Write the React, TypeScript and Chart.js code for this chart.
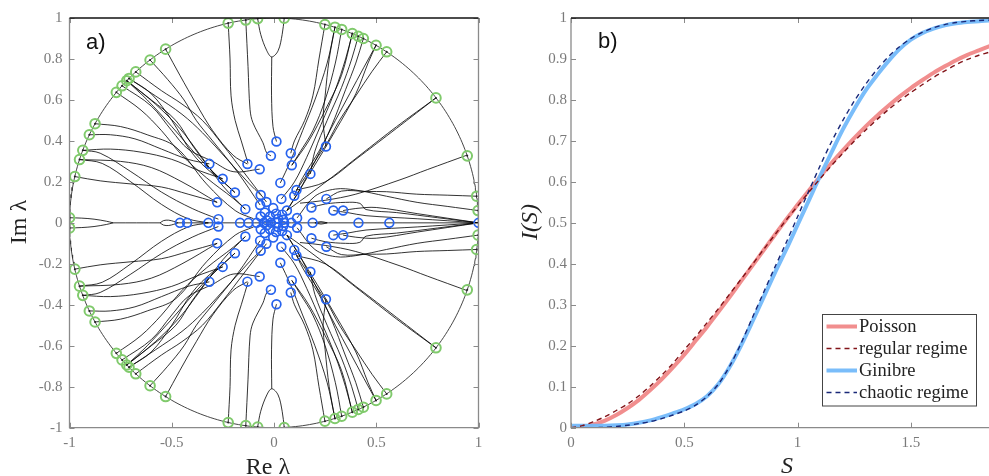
import React, { useEffect, useRef } from "react";
import { Chart, registerables } from "chart.js";
Chart.register(...registerables);

type P = [number, number];

// ---------- Panel a) data ----------
const greenUpper: P[] = [
  [-0.224, 0.975], [-0.138, 0.99], [-0.08, 0.997], [0.05, 0.999], [0.249, 0.968], [0.298, 0.955],
  [0.331, 0.944], [0.383, 0.924], [0.412, 0.911], [0.437, 0.9], [0.499, 0.867], [0.551, 0.835],
  [0.792, 0.61], [0.945, 0.327], [0.991, 0.13], [0.998, 0.06],
  [-0.53, 0.848], [-0.606, 0.795], [-0.676, 0.737], [-0.709, 0.705], [-0.72, 0.694], [-0.743, 0.669],
  [-0.771, 0.637], [-0.875, 0.484], [-0.903, 0.43], [-0.935, 0.354], [-0.951, 0.309], [-0.974, 0.226],
  [-0.9997, 0.025],
];

const blueUpper: P[] = [
  [-0.316, 0.288], [-0.251, 0.215], [-0.191, 0.148], [-0.278, 0.1], [-0.14, 0.067], [-0.13, 0.287],
  [-0.07, 0.262], [0.012, 0.397], [-0.015, 0.327], [0.082, 0.34], [0.087, 0.281], [0.031, 0.195],
  [0.11, 0.16], [0.099, 0.132], [-0.065, 0.136], [-0.037, 0.102], [0.036, 0.117], [-0.068, 0.087],
  [-0.004, 0.072], [0.063, 0.06], [0.254, 0.373], [0.178, 0.239], [0.256, 0.117], [0.183, 0.075],
  [0.29, 0.06], [0.338, 0.06], [0.113, 0.024], [-0.065, 0.031], [-0.02, 0.031], [-0.272, 0.018],
  [0.02, 0.02], [0.045, 0.015], [-0.035, 0.012], [0.01, 0.045], [0.04, 0.04], [-0.045, 0.05],
];

const blueReal: P[] = [
  [-0.46, 0], [-0.425, 0], [-0.321, 0], [-0.166, 0], [-0.125, 0], [-0.085, 0], [-0.05, 0],
  [-0.015, 0], [0.015, 0], [0.05, 0], [0.085, 0], [0.189, 0], [0.413, 0], [0.564, 0], [1, 0],
];

const trajUpper: P[][] = [
  [[-0.786, 0], [-0.82, 0.008], [-0.88, 0.018], [-0.94, 0.023], [-0.9997, 0.025]],
  [[-0.557, 0], [-0.54, 0.011], [-0.515, 0.013], [-0.49, 0.007], [-0.468, 0]],
  [[-0.278, 0.1], [-0.42, 0.14], [-0.55, 0.175], [-0.7, 0.19], [-0.85, 0.205], [-0.974, 0.226]],
  [[-0.321, 0], [-0.42, 0.02], [-0.55, 0.09], [-0.7, 0.2], [-0.84, 0.29], [-0.951, 0.309]],
  [[-0.251, 0.215], [-0.38, 0.26], [-0.5, 0.31], [-0.65, 0.345], [-0.8, 0.36], [-0.935, 0.354]],
  [[-0.316, 0.288], [-0.42, 0.31], [-0.55, 0.36], [-0.68, 0.41], [-0.8, 0.43], [-0.903, 0.43]],
  [[-0.1, 0.02], [-0.19, 0.06], [-0.33, 0.19], [-0.48, 0.37], [-0.62, 0.43], [-0.75, 0.47], [-0.875, 0.484]],
  [[-0.14, 0.067], [-0.2, 0.12], [-0.33, 0.22], [-0.45, 0.33], [-0.55, 0.45], [-0.65, 0.55], [-0.771, 0.637]],
  [[-0.07, 0.262], [-0.2, 0.25], [-0.3, 0.3], [-0.42, 0.36], [-0.5, 0.45], [-0.6, 0.57], [-0.743, 0.669]],
  [[-0.191, 0.148], [-0.3, 0.25], [-0.4, 0.38], [-0.48, 0.5], [-0.6, 0.6], [-0.72, 0.694]],
  [[-0.065, 0.136], [-0.12, 0.19], [-0.22, 0.3], [-0.35, 0.44], [-0.45, 0.53], [-0.58, 0.62], [-0.709, 0.705]],
  [[-0.037, 0.102], [-0.15, 0.25], [-0.25, 0.38], [-0.35, 0.5], [-0.45, 0.58], [-0.55, 0.645], [-0.676, 0.737]],
  [[-0.068, 0.087], [-0.18, 0.25], [-0.3, 0.4], [-0.38, 0.5], [-0.44, 0.6], [-0.52, 0.7], [-0.606, 0.795]],
  [[-0.13, 0.287], [-0.2, 0.33], [-0.3, 0.45], [-0.38, 0.58], [-0.46, 0.72], [-0.53, 0.848]],
  [[-0.127, 0.29], [-0.16, 0.4], [-0.19, 0.5], [-0.21, 0.62], [-0.215, 0.8], [-0.224, 0.975]],
  [[-0.015, 0.327], [-0.036, 0.342], [-0.054, 0.391], [-0.103, 0.489], [-0.117, 0.552], [-0.127, 0.763], [-0.138, 0.99]],
  [[-0.08, 0.997], [-0.065, 0.92], [-0.035, 0.84], [-0.011, 0.81], [0.02, 0.84], [0.04, 0.92], [0.05, 0.999]],
  [[0.012, 0.397], [-0.005, 0.47], [-0.012, 0.62], [-0.011, 0.81]],
  [[-0.14, 0.067], [-0.25, 0.18], [-0.36, 0.33], [-0.46, 0.46], [-0.58, 0.58], [-0.72, 0.694]],
  [[-0.251, 0.215], [-0.3, 0.24], [-0.4, 0.34], [-0.5, 0.5], [-0.6, 0.63], [-0.709, 0.705]],
  [[-0.191, 0.148], [-0.35, 0.3], [-0.5, 0.47], [-0.62, 0.6], [-0.72, 0.694]],
  [[-0.272, 0.018], [-0.4, 0.07], [-0.55, 0.15], [-0.7, 0.25], [-0.85, 0.34], [-0.935, 0.354]],
  [[-0.278, 0.1], [-0.45, 0.2], [-0.6, 0.27], [-0.75, 0.3], [-0.951, 0.309]],
  [[0.082, 0.34], [0.1, 0.4], [0.15, 0.5], [0.19, 0.62], [0.22, 0.8], [0.249, 0.968]],
  [[0.254, 0.373], [0.24, 0.5], [0.25, 0.62], [0.27, 0.8], [0.298, 0.955]],
  [[0.031, 0.195], [0.08, 0.3], [0.14, 0.45], [0.2, 0.6], [0.26, 0.78], [0.298, 0.955]],
  [[0.087, 0.281], [0.13, 0.35], [0.19, 0.45], [0.25, 0.6], [0.3, 0.78], [0.331, 0.944]],
  [[0.087, 0.281], [0.17, 0.4], [0.25, 0.55], [0.33, 0.72], [0.383, 0.924]],
  [[0.036, 0.117], [0.1, 0.2], [0.16, 0.32], [0.23, 0.48], [0.3, 0.65], [0.35, 0.8], [0.383, 0.924]],
  [[0.178, 0.239], [0.2, 0.35], [0.26, 0.5], [0.33, 0.66], [0.38, 0.8], [0.412, 0.911]],
  [[0.11, 0.16], [0.2, 0.3], [0.28, 0.47], [0.35, 0.65], [0.4, 0.78], [0.437, 0.9]],
  [[0.099, 0.132], [0.14, 0.22], [0.22, 0.35], [0.3, 0.5], [0.37, 0.63], [0.44, 0.76], [0.499, 0.867]],
  [[0.063, 0.06], [0.18, 0.25], [0.3, 0.45], [0.4, 0.63], [0.46, 0.78], [0.499, 0.867]],
  [[0.063, 0.06], [0.12, 0.15], [0.2, 0.3], [0.26, 0.39], [0.32, 0.5], [0.4, 0.62], [0.48, 0.74], [0.551, 0.835]],
  [[0.063, 0.06], [0.16, 0.13], [0.28, 0.22], [0.42, 0.33], [0.6, 0.47], [0.792, 0.61]],
  [[0.11, 0.16], [0.25, 0.2], [0.4, 0.31], [0.6, 0.462], [0.792, 0.61]],
  [[0.127, 0.096], [0.25, 0.11], [0.4, 0.14], [0.616, 0.21], [0.75, 0.26], [0.945, 0.331]],
  [[0.256, 0.117], [0.33, 0.155], [0.453, 0.153], [0.55, 0.152], [0.698, 0.14], [0.85, 0.135], [0.991, 0.13]],
  [[0.113, 0.024], [0.2, 0.13], [0.3, 0.165], [0.4, 0.16], [0.55, 0.13], [0.7, 0.1], [0.85, 0.08], [0.998, 0.06]],
  [[0.183, 0.075], [0.25, 0.092], [0.35, 0.1], [0.42, 0.095], [0.45, 0.065], [0.6, 0.05], [0.8, 0.025], [1, 0]],
  [[0.29, 0.06], [0.36, 0.05], [0.45, 0.035], [0.7, 0.02], [1, 0]],
  [[0.338, 0.06], [0.4, 0.07], [0.5, 0.075], [0.7, 0.045], [1, 0]],
  [[0.2, 0], [0.23, 0.006], [0.26, 0]],
];

const trajReal: P[][] = [
  [[-0.786, 0], [-0.557, 0]],
  [[-0.468, 0], [1, 0]],
];

const xTicksLeft = [-1, -0.5, 0, 0.5, 1];
const yTicksLeft = [-1, -0.8, -0.6, -0.4, -0.2, 0, 0.2, 0.4, 0.6, 0.8, 1];

// ---------- Panel b) data ----------
const sValues = [0, 0.05, 0.1, 0.15, 0.2, 0.25, 0.3, 0.35, 0.4, 0.45, 0.5, 0.55, 0.6, 0.65, 0.7, 0.75, 0.8,
  0.85, 0.9, 0.95, 1.0, 1.05, 1.1, 1.15, 1.2, 1.25, 1.3, 1.35, 1.4, 1.45, 1.5, 1.55, 1.6, 1.65, 1.7, 1.75, 1.8, 1.85];
const poisson = [0, 0.002, 0.008, 0.0175, 0.031, 0.048, 0.068, 0.092, 0.118, 0.147, 0.178, 0.212, 0.246, 0.282,
  0.319, 0.357, 0.395, 0.433, 0.471, 0.508, 0.544, 0.579, 0.613, 0.646, 0.677, 0.707, 0.735, 0.761, 0.785, 0.808,
  0.829, 0.848, 0.866, 0.882, 0.897, 0.91, 0.921, 0.932];
const regular = [0, 0.005, 0.015, 0.027, 0.042, 0.058, 0.078, 0.102, 0.128, 0.157, 0.19, 0.222, 0.256, 0.29,
  0.326, 0.362, 0.398, 0.435, 0.471, 0.507, 0.541, 0.575, 0.608, 0.64, 0.67, 0.699, 0.726, 0.752, 0.776, 0.798,
  0.818, 0.837, 0.855, 0.871, 0.886, 0.899, 0.909, 0.917];
const ginibre = [0.005, 0.005, 0.005, 0.005, 0.006, 0.008, 0.012, 0.018, 0.026, 0.035, 0.045, 0.058, 0.077, 0.106,
  0.148, 0.2, 0.258, 0.318, 0.378, 0.435, 0.495, 0.555, 0.615, 0.672, 0.728, 0.778, 0.823, 0.86, 0.894, 0.924,
  0.947, 0.963, 0.974, 0.982, 0.987, 0.99, 0.992, 0.994];
const chaotic = [0, 0, 0, 0.001, 0.003, 0.006, 0.01, 0.015, 0.022, 0.031, 0.041, 0.055, 0.076, 0.106, 0.15, 0.205,
  0.268, 0.33, 0.392, 0.452, 0.515, 0.578, 0.64, 0.698, 0.75, 0.797, 0.838, 0.874, 0.905, 0.93, 0.95, 0.965,
  0.976, 0.984, 0.989, 0.992, 0.994, 0.995];
const xTicksRight = [0, 0.5, 1, 1.5];
const yTicksRight = [0, 0.1, 0.2, 0.3, 0.4, 0.5, 0.6, 0.7, 0.8, 0.9, 1];
const legendLabels = ["Poisson", "regular regime", "Ginibre", "chaotic regime"];

// ---------- styles ----------
const SERIF = '"Liberation Serif", "DejaVu Serif", serif';
const SANS = '"Liberation Sans", Arial, sans-serif';
const TICK_COLOR = "#7a7a7a";
const AXIS_COLOR = "#8a8a8a";
const GREEN = "rgb(128,202,108)";
const BLUE = "rgb(38,98,238)";
const POISSON_C = "rgba(240,130,130,0.9)";
const REGULAR_C = "rgb(130,20,25)";
const GINIBRE_C = "rgba(115,185,250,0.95)";
const CHAOTIC_C = "rgb(25,40,120)";

const H = 476;
const LW = 495;
const RW = 494;

const fmt = (v: any) => String(Math.round(Number(v) * 100) / 100);
const toXY = (pts: P[]) => pts.map(([x, y]) => ({ x, y }));
const conj = (pts: P[]): P[] => pts.map(([x, y]) => [x, -y] as P);

function framePlugin(xt: number[], yt: number[], rightSide: boolean) {
  return {
    id: "frame",
    afterDatasetsDraw(chart: any) {
      const { ctx, chartArea: a, scales } = chart;
      ctx.save();
      ctx.lineWidth = 1;
      ctx.strokeStyle = AXIS_COLOR;
      const tl = 5;
      for (const v of yt) {
        const py = Math.round(scales.y.getPixelForValue(v)) + 0.5;
        ctx.beginPath();
        ctx.moveTo(a.left, py);
        ctx.lineTo(a.left + tl, py);
        if (rightSide) {
          ctx.moveTo(a.right, py);
          ctx.lineTo(a.right - tl, py);
        }
        ctx.stroke();
      }
      for (const v of xt) {
        const px = Math.round(scales.x.getPixelForValue(v)) + 0.5;
        ctx.beginPath();
        ctx.moveTo(px, a.bottom);
        ctx.lineTo(px, a.bottom - tl);
        ctx.moveTo(px, a.top);
        ctx.lineTo(px, a.top + tl);
        ctx.stroke();
      }
      ctx.lineWidth = 1.3;
      ctx.strokeStyle = AXIS_COLOR;
      ctx.beginPath();
      ctx.moveTo(a.left, a.top);
      ctx.lineTo(a.left, a.bottom);
      ctx.lineTo(a.right, a.bottom);
      if (rightSide) ctx.lineTo(a.right, a.top);
      ctx.stroke();
      ctx.strokeStyle = "#111";
      ctx.beginPath();
      ctx.moveTo(a.left, a.top);
      ctx.lineTo(a.right, a.top);
      ctx.stroke();
      ctx.restore();
    },
  };
}

function textPlugin(draw: (ctx: CanvasRenderingContext2D, chart: any) => void) {
  return {
    id: "texts",
    afterDraw(chart: any) {
      const ctx = chart.ctx as CanvasRenderingContext2D;
      ctx.save();
      draw(ctx, chart);
      ctx.restore();
    },
  };
}

function scaleOpts(min: number, max: number, ticks: number[], size: number, isY: boolean, pad: number) {
  return {
    type: "linear",
    min,
    max,
    grid: { display: false, drawTicks: false },
    border: { display: false },
    afterBuildTicks: (s: any) => {
      s.ticks = ticks.map((v) => ({ value: v }));
    },
    afterFit: (s: any) => {
      if (isY) s.width = size;
      else s.height = size;
    },
    ticks: {
      padding: pad,
      color: TICK_COLOR,
      font: { family: SERIF, size: 15 },
      callback: fmt,
      autoSkip: false,
      maxRotation: 0,
    },
  };
}

export default function App() {
  const leftRef = useRef<HTMLCanvasElement>(null);
  const rightRef = useRef<HTMLCanvasElement>(null);

  useEffect(() => {
    const lineDs = (pts: P[]) => ({
      data: toXY(pts),
      borderColor: "rgba(0,0,0,0.8)",
      borderWidth: 1,
      pointRadius: 0,
      tension: 0.35,
      fill: false,
      order: 10,
    });
    const circlePts: P[] = [];
    for (let i = 0; i <= 360; i++) {
      const t = (i / 360) * 2 * Math.PI;
      circlePts.push([Math.cos(t), Math.sin(t)]);
    }
    const allGreen = [...greenUpper, ...conj(greenUpper)];
    const allBlue = [...blueUpper, ...conj(blueUpper), ...blueReal];
    const leftDatasets: any[] = [
      { data: toXY(circlePts), borderColor: "rgba(50,50,50,0.9)", borderWidth: 1, pointRadius: 0, tension: 0, order: 9 },
      ...trajUpper.map(lineDs),
      ...trajUpper.map((t) => lineDs(conj(t))),
      ...trajReal.map(lineDs),
      {
        data: toXY(allGreen), showLine: false, pointRadius: 4.8, pointBorderWidth: 2,
        pointBorderColor: GREEN, pointBackgroundColor: "rgba(0,0,0,0)", order: 2,
      },
      {
        data: toXY(allGreen), showLine: false, pointRadius: 1, pointBorderWidth: 0,
        pointBackgroundColor: "#222", order: 1,
      },
      {
        data: toXY(allBlue), showLine: false, pointRadius: 4.4, pointBorderWidth: 1.7,
        pointBorderColor: BLUE, pointBackgroundColor: "rgba(0,0,0,0)", order: 0,
      },
    ];

    const left = new Chart(leftRef.current!, {
      type: "line",
      data: { datasets: leftDatasets },
      options: {
        responsive: false,
        animation: false,
        devicePixelRatio: 1,
        events: [],
        layout: { padding: { top: 18, right: 16.5, left: 0, bottom: 0 } },
        plugins: { legend: { display: false }, tooltip: { enabled: false } },
        scales: {
          x: scaleOpts(-1, 1, xTicksLeft, 48.3, false, 6) as any,
          y: scaleOpts(-1, 1, yTicksLeft, 69.5, true, 7) as any,
        },
      } as any,
      plugins: [
        framePlugin(xTicksLeft, yTicksLeft, true),
        textPlugin((ctx) => {
          ctx.fillStyle = "#111";
          ctx.font = `22px ${SANS}`;
          ctx.textBaseline = "alphabetic";
          ctx.textAlign = "left";
          ctx.fillText("a)", 86, 49);
          ctx.fillStyle = "#222";
          ctx.font = `24px ${SERIF}`;
          ctx.textAlign = "center";
          ctx.fillText("Re λ", 268, 474);
          ctx.save();
          ctx.translate(26, 222);
          ctx.rotate(-Math.PI / 2);
          ctx.textAlign = "center";
          ctx.fillText("Im λ", 0, 0);
          ctx.restore();
        }),
      ],
    });

    const mk = (vals: number[]) => sValues.map((s, i) => ({ x: s, y: vals[i] }));
    const right = new Chart(rightRef.current!, {
      type: "line",
      data: {
        datasets: [
          { data: mk(regular), borderColor: REGULAR_C, borderWidth: 1.4, borderDash: [5, 4], pointRadius: 0, tension: 0.3, order: 0 },
          { data: mk(chaotic), borderColor: CHAOTIC_C, borderWidth: 1.4, borderDash: [5, 4], pointRadius: 0, tension: 0.3, order: 0 },
          { data: mk(ginibre), borderColor: GINIBRE_C, borderWidth: 4, pointRadius: 0, tension: 0.3, order: 1 },
          { data: mk(poisson), borderColor: POISSON_C, borderWidth: 4, pointRadius: 0, tension: 0.3, order: 2 },
        ],
      },
      options: {
        responsive: false,
        animation: false,
        devicePixelRatio: 1,
        events: [],
        layout: { padding: { top: 18, right: 0, left: 0, bottom: 0 } },
        plugins: { legend: { display: false }, tooltip: { enabled: false } },
        scales: {
          x: scaleOpts(0, 1.845, xTicksRight, 48.3, false, 6) as any,
          y: scaleOpts(0, 1, yTicksRight, 76, true, 4) as any,
        },
      } as any,
      plugins: [
        framePlugin(xTicksRight, yTicksRight, false),
        textPlugin((ctx) => {
          ctx.fillStyle = "#111";
          ctx.font = `22px ${SANS}`;
          ctx.textAlign = "left";
          ctx.fillText("b)", 598 - LW, 48);
          ctx.fillStyle = "#222";
          ctx.font = `italic 24px ${SERIF}`;
          ctx.textAlign = "center";
          ctx.fillText("S", 787 - LW, 473);
          ctx.save();
          ctx.translate(537 - LW, 222);
          ctx.rotate(-Math.PI / 2);
          ctx.fillText("I(S)", 0, 0);
          ctx.restore();
          // legend
          const bx = 822.5 - LW, by = 314.5, bw = 154, bh = 91.5;
          ctx.fillStyle = "#fff";
          ctx.fillRect(bx, by, bw, bh);
          ctx.strokeStyle = "#444";
          ctx.lineWidth = 1;
          ctx.strokeRect(bx, by, bw, bh);
          const styles = [
            { c: POISSON_C, w: 4, d: [] as number[] },
            { c: REGULAR_C, w: 1.4, d: [5, 4] },
            { c: GINIBRE_C, w: 4, d: [] as number[] },
            { c: CHAOTIC_C, w: 1.4, d: [5, 4] },
          ];
          const rows = [326.5, 348.5, 370.5, 392.5];
          ctx.font = `18.5px ${SERIF}`;
          ctx.textAlign = "left";
          ctx.textBaseline = "middle";
          legendLabels.forEach((lab, i) => {
            const st = styles[i];
            ctx.strokeStyle = st.c;
            ctx.lineWidth = st.w;
            ctx.setLineDash(st.d);
            ctx.beginPath();
            ctx.moveTo(826.5 - LW, rows[i]);
            ctx.lineTo(857 - LW, rows[i]);
            ctx.stroke();
            ctx.setLineDash([]);
            ctx.fillStyle = "#222";
            ctx.fillText(lab, 859 - LW, rows[i] + 1);
          });
        }),
      ],
    });

    return () => {
      left.destroy();
      right.destroy();
    };
  }, []);

  return (
    <div style={{ position: "absolute", left: 0, top: 0, width: LW + RW, height: H, background: "#fff", overflow: "hidden" }}>
      <canvas ref={leftRef} width={LW} height={H} style={{ position: "absolute", left: 0, top: 0, width: LW, height: H }} />
      <canvas ref={rightRef} width={RW} height={H} style={{ position: "absolute", left: LW, top: 0, width: RW, height: H }} />
    </div>
  );
}
